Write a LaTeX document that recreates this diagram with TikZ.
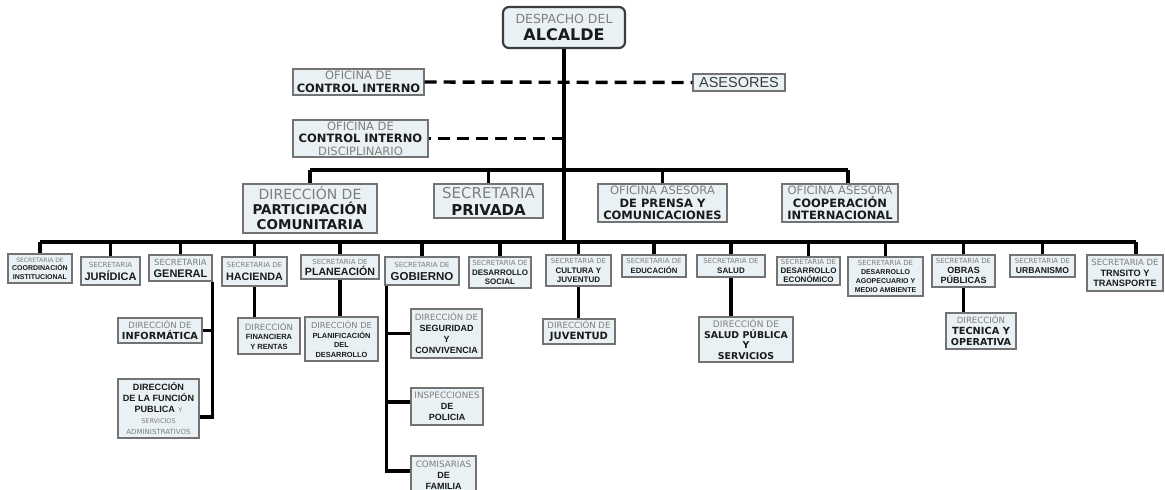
\documentclass[tikz,border=0pt]{standalone}
\usepackage{fontspec}
\setmainfont{DejaVu Sans}
\newfontfamily\dv{DejaVu Sans}
\newfontfamily\ar{Liberation Sans}
\definecolor{bxfill}{HTML}{EAF1F4}
\definecolor{bxline}{HTML}{737373}
\definecolor{gtx}{HTML}{7E7E7E}
\definecolor{btx}{HTML}{1A1A1A}
\definecolor{dtx}{HTML}{3C3C3C}
\newcommand\txg[2]{{\color{gtx}\dv\fontsize{#1}{#1}\selectfont #2}}
\newcommand\txv[2]{{\color{btx}\dv\bfseries\fontsize{#1}{#1}\selectfont #2}}
\newcommand\txa[2]{{\color{btx}\ar\bfseries\fontsize{#1}{#1}\selectfont #2}}
\newcommand\txq[2]{{\color{dtx}\ar\fontsize{#1}{#1}\selectfont #2}}
\newcommand\lsk[1]{\fontsize{#1}{#1}\selectfont}
\begin{document}
\begin{tikzpicture}[x=1pt,y=-1pt,
  bx/.style={draw=bxline, fill=bxfill, line width=1.4pt, inner sep=0pt, align=center},
  conn/.style={line width=3.4pt, draw=black},
  dl/.style={line width=3.4pt, draw=black, dash pattern=on 12pt off 7pt}]
\useasboundingbox (0,0) rectangle (1165,490);
\fill[white] (0,0) rectangle (1165,490);
\clip (0,0) rectangle (1165,490);

\coordinate (busA) at (566,170);
\coordinate (busB) at (566,242);

% top
\node[bx, draw=dtx, line width=2.2pt, rounded corners=6pt, minimum width=122pt, minimum height=41pt, font=\lsk{17}] (ALC) at (564,27.5) {\txg{12.5}{DESPACHO DEL}\\\txv{16}{ALCALDE}};
\node[bx, minimum width=131pt, minimum height=26pt, font=\lsk{13}] (CI) at (358.5,82) {\txg{11.5}{OFICINA DE}\\\txv{11.5}{CONTROL INTERNO}};
\node[bx, minimum width=92pt, minimum height=17pt] (ASE) at (739,82.5) {\txq{14.5}{ASESORES}};
\node[bx, minimum width=135pt, minimum height=37pt, font=\lsk{12.5}] (CID) at (360.5,138.5) {\txg{11.5}{OFICINA DE}\\\txv{11.5}{CONTROL INTERNO}\\\txg{11.5}{DISCIPLINARIO}};

% second level
\node[bx, minimum width=134pt, minimum height=49pt, font=\lsk{15}] (PART) at (310,208.5) {\txg{14}{DIRECCIÓN DE}\\\txv{13.5}{PARTICIPACIÓN}\\\txv{13.5}{COMUNITARIA}};
\node[bx, minimum width=109pt, minimum height=34pt, font=\lsk{17}] (PRIV) at (488.5,201) {\txg{15}{SECRETARIA}\\\txv{15}{PRIVADA}};
\node[bx, minimum width=129pt, minimum height=38pt, font=\lsk{12.5}] (PREN) at (662.5,203) {\txg{11.5}{OFICINA ASESORA}\\\txv{11.5}{DE PRENSA Y}\\\txv{11.5}{COMUNICACIONES}};
\node[bx, minimum width=116pt, minimum height=38pt, font=\lsk{12.5}] (COOP) at (840,203) {\txg{11.5}{OFICINA ASESORA}\\\txv{11.5}{COOPERACIÓN}\\\txv{11.5}{INTERNACIONAL}};

% secretarias row
\node[bx, minimum width=64pt, minimum height=29pt, font=\lsk{8.5}] (COORD) at (40,268.5) {\txg{6}{SECRETARIA DE}\\\txa{7}{COORDINACIÓN}\\\txa{7}{INSTITUCIONAL}};
\node[bx, minimum width=59pt, minimum height=28pt, font=\lsk{13}] (JUR) at (110.5,271) {\txg{7}{SECRETARIA}\\\txa{11}{JURÍDICA}};
\node[bx, minimum width=63pt, minimum height=26pt, font=\lsk{12}] (GEN) at (180.5,268) {\txg{8.5}{SECRETARIA}\\\txa{11}{GENERAL}};
\node[bx, minimum width=65pt, minimum height=29pt, font=\lsk{13}] (HAC) at (254.5,271.5) {\txg{7}{SECRETARIA DE}\\\txa{10.8}{HACIENDA}};
\node[bx, minimum width=78pt, minimum height=24pt, font=\lsk{11}] (PLAN) at (340,267) {\txg{7}{SECRETARIA DE}\\\txa{10.6}{PLANEACIÓN}};
\node[bx, minimum width=74pt, minimum height=28pt, font=\lsk{13}] (GOB) at (422,271) {\txg{7}{SECRETARIA DE}\\\txa{11.5}{GOBIERNO}};
\node[bx, minimum width=62pt, minimum height=31pt, font=\lsk{9.5}] (DSOC) at (500,272.5) {\txg{7}{SECRETARIA DE}\\\txa{8}{DESARROLLO}\\\txa{8}{SOCIAL}};
\node[bx, minimum width=65pt, minimum height=31pt, font=\lsk{9.5}] (CULT) at (578.5,270.5) {\txg{7}{SECRETARIA DE}\\\txa{8}{CULTURA Y}\\\txa{8}{JUVENTUD}};
\node[bx, minimum width=64pt, minimum height=22pt, font=\lsk{10}] (EDU) at (654,266) {\txg{7}{SECRETARIA DE}\\\txa{7.7}{EDUCACIÓN}};
\node[bx, minimum width=68pt, minimum height=22pt, font=\lsk{10}] (SAL) at (731,266) {\txg{7}{SECRETARIA DE}\\\txa{8}{SALUD}};
\node[bx, minimum width=63pt, minimum height=28pt, font=\lsk{9}] (DECO) at (808.5,271) {\txg{7}{SECRETARIA DE}\\\txa{8}{DESARROLLO}\\\txa{8}{ECONÓMICO}};
\node[bx, minimum width=75pt, minimum height=39pt, font=\lsk{8.8}] (AGRO) at (885.5,276.5) {\txg{7}{SECRETARIA DE}\\\txa{7}{DESARROLLO}\\\txa{7}{AGOPECUARIO Y}\\\txa{7}{MEDIO AMBIENTE}};
\node[bx, minimum width=63pt, minimum height=32pt, font=\lsk{10}] (OBR) at (963.5,271) {\txg{7}{SECRETARIA DE}\\\txa{9}{OBRAS}\\\txa{9}{PÚBLICAS}};
\node[bx, minimum width=65pt, minimum height=22pt, font=\lsk{10}] (URB) at (1042.5,266) {\txg{7}{SECRETARIA DE}\\\txa{8.6}{URBANISMO}};
\node[bx, minimum width=76pt, minimum height=36pt, font=\lsk{10.5}] (TRA) at (1125,273) {\txg{8.5}{SECRETARIA DE}\\\txa{9.2}{TRNSITO Y}\\\txa{9.2}{TRANSPORTE}};

% lower boxes
\node[bx, minimum width=84pt, minimum height=25pt, font=\lsk{11}] (INF) at (160,330.5) {\txg{8.6}{DIRECCIÓN DE}\\\txv{9.8}{INFORMÁTICA}};
\node[bx, minimum width=81pt, minimum height=59pt, font=\lsk{11}] (FUNC) at (158.5,408.5) {\txa{9.1}{DIRECCIÓN}\\\txa{9.1}{DE LA FUNCIÓN}\\\txa{9.1}{PUBLICA} \txg{6.5}{Y}\\\txg{6.5}{SERVICIOS}\\\txg{7}{ADMINISTRATIVOS}};
\node[bx, minimum width=62pt, minimum height=36pt, font=\lsk{9.5}] (FIN) at (269,336) {\txg{8.6}{DIRECCIÓN}\\\txa{7.5}{FINANCIERA}\\\txa{7.5}{Y RENTAS}};
\node[bx, minimum width=73pt, minimum height=44pt, font=\lsk{9.5}] (PLD) at (341.5,339) {\txg{8.3}{DIRECCIÓN DE}\\\txa{7.4}{PLANIFICACIÓN}\\\txa{7.4}{DEL}\\\txa{7.4}{DESARROLLO}};
\node[bx, minimum width=71pt, minimum height=49pt, font=\lsk{11}] (SEG) at (446.5,333.5) {\txg{8.6}{DIRECCIÓN DE}\\\txa{9}{SEGURIDAD}\\\txa{9}{Y}\\\txa{9}{CONVIVENCIA}};
\node[bx, minimum width=72pt, minimum height=37pt, font=\lsk{11}] (INSP) at (447,406.5) {\txg{8.8}{INSPECCIONES}\\\txa{9}{DE}\\\txa{9}{POLICIA}};
\node[bx, minimum width=65pt, minimum height=39pt, font=\lsk{11}] (COM) at (443.5,475.5) {\txg{8.8}{COMISARIAS}\\\txa{9}{DE}\\\txa{9}{FAMILIA}};
\node[bx, minimum width=72pt, minimum height=25pt, font=\lsk{11}] (JUV) at (579,331.5) {\txg{8.6}{DIRECCIÓN DE}\\\txv{10}{JUVENTUD}};
\node[bx, minimum width=94pt, minimum height=45pt, font=\lsk{10.5}] (SPUB) at (746,339.5) {\txg{9}{DIRECCIÓN DE}\\\txv{9.4}{SALUD PÚBLICA}\\\txv{9.4}{Y}\\\txv{9.4}{SERVICIOS}};
\node[bx, minimum width=70pt, minimum height=36pt, font=\lsk{11}] (TEC) at (981,331) {\txg{8.6}{DIRECCIÓN}\\\txv{9.8}{TECNICA Y}\\\txv{9.6}{OPERATIVA}};

% connectors
\coordinate (coopd) at ([xshift=8pt]COOP.north);
\coordinate (trad) at ([xshift=11pt]TRA.north);
\draw[conn] (ALC.south) -- (ALC.south |- busB);
\draw[dl] (CI.east) -- (ASE.west);
\draw[dl] (CID.east -| ALC.south) -- (CID.east);
\draw[conn] (PART.north |- busA) -- (coopd |- busA);
\foreach \n in {PART,PRIV,PREN} \draw[conn] (\n.north) -- (\n.north |- busA);
\draw[conn] (coopd) -- (coopd |- busA);
\draw[conn] (COORD.north |- busB) -- (trad |- busB);
\foreach \n in {COORD,JUR,GEN,HAC,PLAN,GOB,DSOC,CULT,EDU,SAL,DECO,AGRO,OBR,URB} \draw[conn] (\n.north) -- (\n.north |- busB);
\draw[conn] (trad) -- (trad |- busB);
% general
\coordinate (genb) at (0,417);
\draw[conn] (GEN.south east) -- (GEN.south east |- genb) -- (FUNC.east |- genb);
\draw[conn] (INF.east) -- (INF.east -| GEN.south east);
% hacienda, planeacion, cultura, salud, obras
\draw[conn] (HAC.south) -- (HAC.south |- FIN.north);
\draw[conn] (PLAN.south) -- (PLAN.south |- PLD.north);
\draw[conn] (CULT.south) -- (CULT.south |- JUV.north);
\draw[conn] (SAL.south) -- (SAL.south |- SPUB.north);
\draw[conn] (OBR.south) -- (OBR.south |- TEC.north);
% gobierno
\coordinate (gobv) at ([xshift=2pt]GOB.south west);
\coordinate (gobb) at (0,471);
\coordinate (insy) at (0,402);
\draw[conn] (gobv) -- (gobv |- gobb) -- (COM.west |- gobb);
\draw[conn] (gobv |- SEG.west) -- (SEG.west);
\draw[conn] (gobv |- insy) -- (INSP.west |- insy);
\end{tikzpicture}
\end{document}
